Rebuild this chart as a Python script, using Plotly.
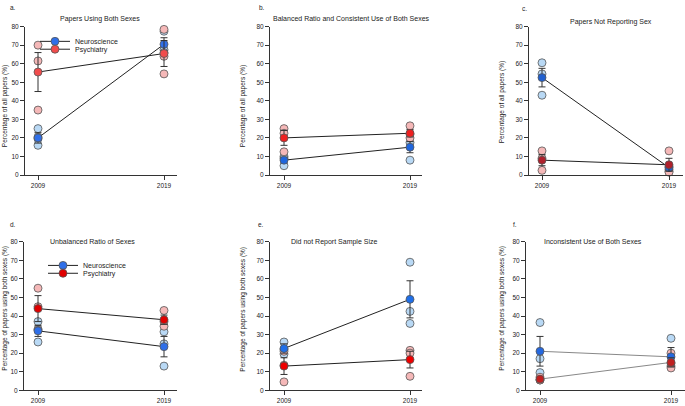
import plotly.graph_objects as go

W, H = 685, 406
years = [2009, 2019]
yticks = [0, 10, 20, 30, 40, 50, 60, 70, 80]

# a. Papers Using Both Sexes
a_neuro_2009 = [25, 20.5, 19.5, 16]
a_neuro_2019 = [77.5, 67.5, 66]
a_psych_2009 = [70, 61.5, 35]
a_psych_2019 = [78.5, 64, 54.5]
a_neuro_mean = [20, 70.5]
a_neuro_sem = [2.8, 3.5]
a_psych_mean = [55.5, 65.5]
a_psych_sem = [10.5, 7]

# b. Balanced Ratio and Consistent Use of Both Sexes
b_neuro_2009 = [10, 9, 5]
b_neuro_2019 = [17.5, 8]
b_psych_2009 = [25, 22.5, 12.5]
b_psych_2019 = [26.5, 22, 20]
b_neuro_mean = [8, 15]
b_neuro_sem = [1.5, 3]
b_psych_mean = [20, 22.5]
b_psych_sem = [4, 2]

# c. Papers Not Reporting Sex
c_neuro_2009 = [60.5, 54.5, 43]
c_neuro_2019 = [4.5, 3]
c_psych_2009 = [13, 9, 2.5]
c_psych_2019 = [13, 2, 1.5]
c_neuro_mean = [52.5, 4]
c_neuro_sem = [5, 1.5]
c_psych_mean = [8, 5.5]
c_psych_sem = [3, 3.5]

# d. Unbalanced Ratio of Sexes
d_neuro_2009 = [37, 33, 26]
d_neuro_2019 = [31.5, 25, 13]
d_psych_2009 = [55, 45, 32.5]
d_psych_2019 = [43, 37, 34.5]
d_neuro_mean = [32, 23.5]
d_neuro_sem = [3, 5.5]
d_psych_mean = [44, 38]
d_psych_sem = [7, 2.5]

# e. Did not Report Sample Size
e_neuro_2009 = [26, 22, 19.5]
e_neuro_2019 = [69, 42.5, 36]
e_psych_2009 = [21, 13.5, 4.5]
e_psych_2019 = [21.5, 20, 7.5]
e_neuro_mean = [22.5, 49]
e_neuro_sem = [2.5, 10]
e_psych_mean = [13, 16.5]
e_psych_sem = [4.5, 4.5]

# f. Inconsistent Use of Both Sexes
f_neuro_2009 = [36.5, 17, 9.5]
f_neuro_2019 = [28, 14.5]
f_psych_2009 = [7, 5.5, 5.5]
f_psych_2019 = [20, 13, 12]
f_neuro_mean = [21, 18]
f_neuro_sem = [8, 5]
f_psych_mean = [6, 15]
f_psych_sem = [0.5, 2.5]

FONT = 'Liberation Sans, Arial, sans-serif'
LIGHT_BLUE = '#b9d9f5'
PINK = '#f5b8b8'
EDGE = '#555555'

# panel layout in pixels: y-axis x, 2009 tick x, 2019 tick x, axis end x, top y (80), bottom y (0)
panels = [
    dict(k='a', title='Papers Using Both Sexes', tx=100, ty=15, lx=13, ly=4, ytx=5, yty=104,
         ytitle='Percentage of all papers (%)', x0=25, p1=38, p2=164, x1=177, top=23, bot=174,
         data=(a_neuro_2009, a_neuro_2019, a_psych_2009, a_psych_2019,
               a_neuro_mean, a_neuro_sem, a_psych_mean, a_psych_sem),
         blue='#2f6fe8', red='#f04c4c', line='#222222', legends=('legend', 'legend2')),
    dict(k='b', title='Balanced Ratio and Consistent Use of Both Sexes', tx=351, ty=15, lx=262, ly=4,
         ytx=243, yty=104,
         ytitle='Percentage of all papers (%)', x0=270, p1=284, p2=410, x1=422, top=23, bot=174,
         data=(b_neuro_2009, b_neuro_2019, b_psych_2009, b_psych_2019,
               b_neuro_mean, b_neuro_sem, b_psych_mean, b_psych_sem),
         blue='#1f66dd', red='#ee2020', line='#222222', legends=None),
    dict(k='c', title='Papers Not Reporting Sex', tx=611, ty=18, lx=524, ly=5, ytx=502, yty=100,
         ytitle='Percentage of all papers (%)', x0=529, p1=542, p2=669, x1=683, top=23, bot=174,
         data=(c_neuro_2009, c_neuro_2019, c_psych_2009, c_psych_2019,
               c_neuro_mean, c_neuro_sem, c_psych_mean, c_psych_sem),
         blue='#2060d0', red='#b0202c', line='#222222', legends=None),
    dict(k='d', title='Unbalanced Ratio of Sexes', tx=92, ty=242, lx=13, ly=224, ytx=5, yty=310,
         ytitle='Percentage of papers using both sexes (%)', x0=24, p1=38, p2=164, x1=177, top=242, bot=393,
         data=(d_neuro_2009, d_neuro_2019, d_psych_2009, d_psych_2019,
               d_neuro_mean, d_neuro_sem, d_psych_mean, d_psych_sem),
         blue='#2f6fe8', red='#e00000', line='#222222', legends=('legend3', 'legend4')),
    dict(k='e', title='Did not Report Sample Size', tx=334, ty=242, lx=261, ly=224, ytx=243, yty=310,
         ytitle='Percentage of papers using both sexes (%)', x0=270, p1=284, p2=410, x1=422, top=242, bot=393,
         data=(e_neuro_2009, e_neuro_2019, e_psych_2009, e_psych_2019,
               e_neuro_mean, e_neuro_sem, e_psych_mean, e_psych_sem),
         blue='#1f6fe8', red='#ee0000', line='#222222', legends=None),
    dict(k='f', title='Inconsistent Use of Both Sexes', tx=593, ty=242, lx=515, ly=224, ytx=502, yty=310,
         ytitle='Percentage of papers using both sexes (%)', x0=526, p1=540, p2=671, x1=685, top=242, bot=393,
         data=(f_neuro_2009, f_neuro_2019, f_psych_2009, f_psych_2019,
               f_neuro_mean, f_neuro_sem, f_psych_mean, f_psych_sem),
         blue='#2468e0', red='#c02020', line='#888888', legends=None),
]

fig = go.Figure()
annotations = []

for i, p in enumerate(panels):
    n = '' if i == 0 else str(i + 1)
    xa, ya = 'x' + n, 'y' + n
    n09, n19, p09, p19, nm, ns, pm, ps = p['data']

    # individual data points
    for pts, yr, col in [(n09, 2009, LIGHT_BLUE), (n19, 2019, LIGHT_BLUE),
                         (p09, 2009, PINK), (p19, 2019, PINK)]:
        fig.add_trace(go.Scatter(
            x=[yr] * len(pts), y=pts, mode='markers', xaxis=xa, yaxis=ya,
            marker=dict(size=8, color=col, line=dict(width=0.8, color=EDGE)),
            showlegend=False, cliponaxis=False, hoverinfo='y'))

    # means with SEM
    for j, (name, mean, sem, col) in enumerate([('Neuroscience', nm, ns, p['blue']),
                                                ('Psychiatry', pm, ps, p['red'])]):
        fig.add_trace(go.Scatter(
            x=years, y=mean, mode='lines+markers', xaxis=xa, yaxis=ya, name=name,
            line=dict(color=p['line'], width=1),
            marker=dict(size=8, color=col, line=dict(width=0.8, color=EDGE)),
            error_y=dict(type='data', array=sem, color='#333333', thickness=1, width=3.5),
            showlegend=p['legends'] is not None,
            legend=p['legends'][j] if p['legends'] else 'legend',
            cliponaxis=False))

    scale = (p['p2'] - p['p1']) / 10
    xr = [2009 - (p['p1'] - p['x0']) / scale, 2019 + (p['x1'] - p['p2']) / scale]
    axis_style = dict(showline=True, linecolor='#333333', linewidth=1, ticks='outside',
                      ticklen=4, tickwidth=1, tickcolor='#333333', showgrid=False,
                      zeroline=False, tickfont=dict(size=6.5, color='#222222', family=FONT))
    fig.layout['xaxis' + n] = dict(domain=[p['x0'] / W, p['x1'] / W], range=xr,
                                   tickvals=years, anchor=ya, **axis_style)
    fig.layout['yaxis' + n] = dict(domain=[1 - p['bot'] / H, 1 - p['top'] / H], range=[0, 80],
                                   tickvals=yticks, anchor=xa, **axis_style)

    annotations.append(dict(text=p['title'], x=p['tx'] / W, y=1 - p['ty'] / H, xref='paper',
                            yref='paper', showarrow=False, xanchor='center', yanchor='middle',
                            font=dict(size=7, color='#222222', family=FONT)))
    annotations.append(dict(text=p['k'] + '.', x=p['lx'] / W, y=1 - p['ly'] / H, xref='paper',
                            yref='paper', showarrow=False, xanchor='center', yanchor='middle',
                            font=dict(size=6.5, color='#222222', family=FONT)))
    annotations.append(dict(text=p['ytitle'], x=p['ytx'] / W, y=1 - p['yty'] / H, xref='paper',
                            yref='paper', showarrow=False, xanchor='center', yanchor='middle',
                            textangle=-90, font=dict(size=6.5, color='#222222', family=FONT)))

legend_style = dict(xanchor='left', yanchor='middle', bgcolor='rgba(0,0,0,0)',
                    font=dict(size=7, color='#222222', family=FONT), itemwidth=30)
fig.update_layout(
    width=W, height=H, margin=dict(l=0, r=0, t=0, b=0),
    paper_bgcolor='white', plot_bgcolor='white',
    annotations=annotations,
    legend=dict(x=35 / W, y=1 - 38 / H, **legend_style),
    legend2=dict(x=35 / W, y=1 - 46 / H, **legend_style),
    legend3=dict(x=43 / W, y=1 - 266 / H, **legend_style),
    legend4=dict(x=43 / W, y=1 - 274 / H, **legend_style),
)

fig.write_html("out.html", config={'displayModeBar': False},
               post_script="document.body.style.margin='0';")
